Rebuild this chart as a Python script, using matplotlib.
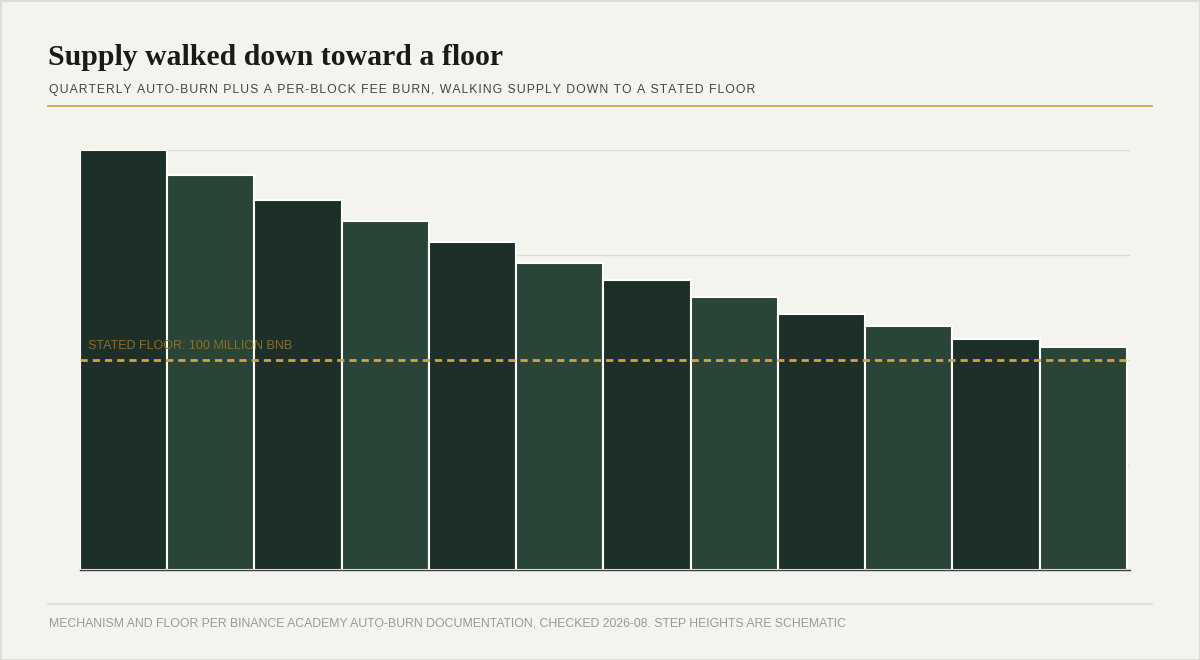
import matplotlib
matplotlib.use('Agg')
import matplotlib.pyplot as plt
from matplotlib.patches import Rectangle

# supply per quarter step, millions of BNB (schematic)
steps = list(range(12))
supply = [200, 188, 176, 166, 156, 146, 138, 130, 122, 116, 110, 106]
floor = 100
grid_vals = [50, 100, 150, 200]

title = "Supply walked down toward a floor"
subtitle = "QUARTERLY AUTO-BURN PLUS A PER-BLOCK FEE BURN, WALKING SUPPLY DOWN TO A STATED FLOOR"
floor_label = "STATED FLOOR: 100 MILLION BNB"
footer = "MECHANISM AND FLOOR PER BINANCE ACADEMY AUTO-BURN DOCUMENTATION, CHECKED 2026-08. STEP HEIGHTS ARE SCHEMATIC"

bg = '#f4f4ef'
dark = '#1c2f28'
light = '#294538'
gold = '#d6a23c'

sans = ['Liberation Sans', 'DejaVu Sans']

def spaced(s):
    return '\u200a'.join(s)

fig = plt.figure(figsize=(12, 6.6), dpi=100, facecolor=bg)
fig.patches.append(Rectangle((0, 0), 1, 1, transform=fig.transFigure,
                             fill=False, edgecolor='#dcdcd5', lw=2))

ax = fig.add_axes([80/1200, 90/660, 1050/1200, 420/660])
ax.set_facecolor(bg)
cols = [dark if i % 2 == 0 else light for i in steps]
ax.bar(steps, supply, width=1.0, color=cols, edgecolor='white', linewidth=1.5, zorder=2)
for g in grid_vals:
    ax.axhline(g, color='#dcdcd6', lw=1, zorder=1)
ax.axhline(floor, color=gold, lw=2, ls=(0, (2.6, 1.8)), zorder=3)
t_floor = ax.text(-0.41, floor + 4, floor_label, color='#8c6d2b', fontsize=8.5,
                  family=sans, va='bottom', ha='left', zorder=4)
ax.set_xlim(-0.5, 11.535)
ax.set_ylim(0, 200)
for s in ['left', 'right', 'top']:
    ax.spines[s].set_visible(False)
ax.spines['bottom'].set_color('#3a3f3c')
ax.spines['bottom'].set_linewidth(1)
ax.spines['bottom'].set_zorder(5)
ax.set_xticks([])
ax.set_yticks([])

t_title = fig.text(48/1200, 1 - 65/660, title, fontsize=21, fontweight='bold',
                   family='Liberation Serif', color='#1a1a1a', va='baseline')
t_sub = fig.text(49/1200, 1 - 90/660, spaced(subtitle), fontsize=9.5, family=sans,
                 color='#444444', va='center')
fig.add_artist(plt.Line2D([48/1200, 1152/1200], [1 - 106/660, 1 - 106/660],
                          color='#c9a048', lw=1.2))
fig.add_artist(plt.Line2D([48/1200, 1152/1200], [1 - 604/660, 1 - 604/660],
                          color='#dcdcd6', lw=1.2))
t_foot = fig.text(49/1200, 1 - 624/660, footer, fontsize=8.5, family=sans,
                  color='#8f9f94', va='center')

# scale text sizes so widths match the reference
fig.canvas.draw()
r = fig.canvas.get_renderer()
for t, target in [(t_title, 452), (t_sub, 716), (t_floor, 203), (t_foot, 793)]:
    w = t.get_window_extent(r).width
    t.set_fontsize(t.get_fontsize() * target / w)

fig.savefig('out.png', facecolor=bg)
